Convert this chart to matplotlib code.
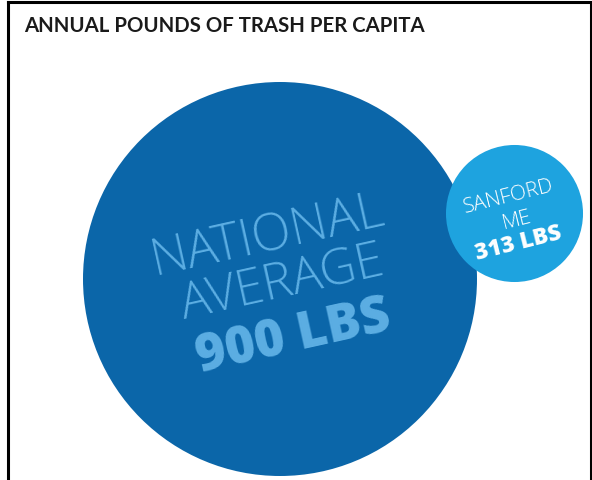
import matplotlib
matplotlib.use("Agg")
import matplotlib.pyplot as plt
from matplotlib.patches import Circle
from matplotlib.lines import Line2D

title = "ANNUAL POUNDS OF TRASH PER CAPITA"
names = ["NATIONAL\nAVERAGE", "SANFORD\nME"]
values = [900, 313]
unit = "LBS"

W, H = 592, 481
fig = plt.figure(figsize=(W / 100, H / 100), dpi=100)
ax = fig.add_axes([0, 0, 1, 1])
ax.set_xlim(0, W)
ax.set_ylim(H, 0)
ax.set_aspect("equal")
ax.axis("off")

# border (open at bottom)
for xs, ys in [([8, 8], [H, 3]), ([8, 591], [3, 3]), ([591, 591], [3, H])]:
    ax.add_line(Line2D(xs, ys, color="black", lw=2.2, solid_capstyle="projecting"))

ax.text(24, 26, title, fontsize=14.7, fontweight="bold", family="Lato",
        color="#1a1a1a", ha="left", va="center")

scale = 197 / 900.0
centers = [(280, 280), (514.5, 214.5)]
fills = ["#0b66a9", "#1ea3df"]
for (cx, cy), v, fc in zip(centers, values, fills):
    ax.add_patch(Circle((cx, cy), v * scale, facecolor=fc, edgecolor="none"))

# big circle labels
lc = "#5caee3"
l1, l2 = names[0].split("\n")
ax.text(268, 236, l1, rotation=12.5, fontsize=37, family="Open Sans", fontweight="light",
        color=lc, ha="center", va="center", rotation_mode="anchor")
ax.text(282, 284, l2, rotation=12.5, fontsize=36, family="Open Sans", fontweight="light",
        color=lc, ha="center", va="center", rotation_mode="anchor")
ax.text(294, 338, f"{values[0]} {unit}", rotation=12.5, fontsize=37, family="Open Sans",
        fontweight="heavy", color=lc, ha="center", va="center", rotation_mode="anchor")

# small circle labels
s1, s2 = names[1].split("\n")
ax.text(508, 197, s1, rotation=14, fontsize=15, family="Open Sans", fontweight="light",
        color="white", ha="center", va="center", rotation_mode="anchor")
ax.text(517, 221, s2, rotation=14, fontsize=15, family="Open Sans", fontweight="light",
        color="white", ha="center", va="center", rotation_mode="anchor")
ax.text(518, 243, f"{values[1]} {unit}", rotation=14, fontsize=16.5, family="Open Sans",
        fontweight="heavy", color="white", ha="center", va="center", rotation_mode="anchor")

fig.savefig("out.png", dpi=100)
